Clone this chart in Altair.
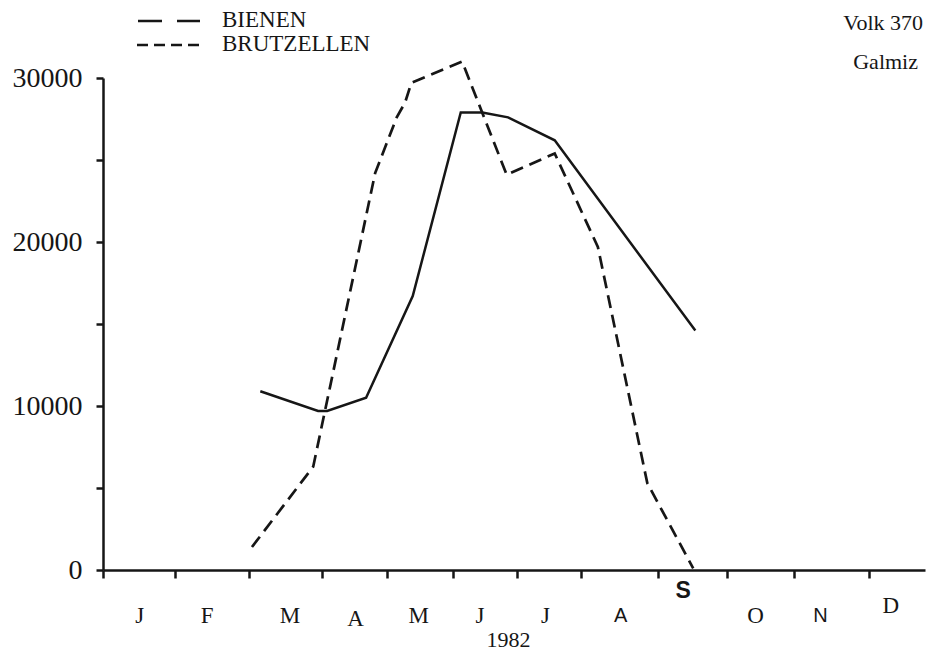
import json
import altair as alt
import pandas as pd

# ---------------- data ----------------
SERIES = ["BIENEN", "BRUTZELLEN"]
MONTHS = ["J", "F", "M", "A", "M", "J", "J", "A", "S", "O", "N", "D"]
# month positions in "months since 1 Jan" units
LABEL_POS = [0.52, 1.49, 2.68, 3.62, 4.53, 5.41, 6.35, 7.43, 8.33, 9.37, 10.30, 11.31]
BOUNDS = [0, 1.03, 2.10, 3.15, 4.08, 5.03, 5.95, 6.87, 7.97, 8.97, 9.93, 11.00]
Y_TICKS = [0, 5000, 10000, 15000, 20000, 25000, 30000]

BIENEN_X = [2.26, 3.09, 3.22, 3.78, 4.45, 5.14, 5.45, 5.82, 6.49, 8.51]
BIENEN_Y = [10900, 9700, 9700, 10500, 16700, 27900, 27900, 27600, 26200, 14600]
BRUT_X = [2.14, 3.02, 3.91, 4.22, 4.34, 4.43, 5.16, 5.80, 6.49, 7.11, 7.82, 8.48]
BRUT_Y = [1400, 6300, 24200, 27600, 28500, 29700, 31000, 24100, 25400, 19700, 5300, 100]

TITLE_1 = "Volk 370"
TITLE_2 = "Galmiz"
YEAR = "1982"

# ---------------- styling ----------------
INK = "#161616"
SERIF = "Liberation Serif"
SANS = "Liberation Sans"
XMAX = 11.81
W, H = 822, 492

bienen = pd.DataFrame({"m": BIENEN_X, "n": BIENEN_Y, "s": SERIES[0]})
brut = pd.DataFrame({"m": BRUT_X, "n": BRUT_Y, "s": SERIES[1]})
one = pd.DataFrame({"k": [0]})

xscale = alt.Scale(domain=[0, XMAX], nice=False, zero=False)
yscale = alt.Scale(domain=[0, 30000], nice=False)

tick_axis = alt.Axis(
    orient="bottom",
    values=BOUNDS, labels=False, ticks=True, tickSize=8, tickWidth=2.5,
    tickColor=INK, domain=True, domainWidth=2.5, domainColor=INK,
    grid=False, title=None,
)

fl = "floor(datum.value)"
label_axis = alt.Axis(
    orient="bottom",
    values=LABEL_POS, ticks=False, domain=False, grid=False,
    labelExpr=json.dumps(MONTHS) + "[" + fl + "]",
    labelFont={"condition": {"test": f"{fl} == 7 || {fl} == 8 || {fl} == 10", "value": SANS},
               "value": SERIF},
    labelFontWeight={"condition": {"test": f"{fl} == 8", "value": "bold"}, "value": "normal"},
    labelFontSize={"condition": {"test": f"{fl} == 7 || {fl} == 10", "value": 20}, "value": 23},
    labelPadding={"condition": [
        {"test": f"{fl} == 8", "value": 20},
        {"test": f"{fl} == 11", "value": 35},
        {"test": f"{fl} == 3", "value": 48},
    ], "value": 45},
    labelBaseline="middle", labelColor=INK, labelFlush=False, labelOverlap=False,
    labelBound=False,
    title=YEAR, titleFont=SERIF, titleFontSize=22, titleFontWeight="normal",
    titleColor=INK, titleX=405, titleY=69, titleBaseline="middle", titleAnchor="middle",
)

y_axis = alt.Axis(
    orient="left",
    values=Y_TICKS, format="d",
    labelExpr="datum.value % 10000 == 0 ? datum.label : ''",
    tickSize=7, tickWidth=2.5, tickColor=INK, domainWidth=2.5, domainColor=INK,
    labelFont=SERIF, labelFontSize=28, labelPadding=14, labelColor=INK,
    grid=False, title=None,
)

line_a = alt.Chart(bienen).mark_line(color=INK, strokeWidth=2.5).encode(
    x=alt.X("m:Q", scale=xscale, axis=tick_axis),
    y=alt.Y("n:Q", scale=yscale, axis=y_axis),
)
line_b = alt.Chart(brut).mark_line(color=INK, strokeWidth=2.7, strokeDash=[13, 7]).encode(
    x=alt.X("m:Q", scale=xscale, axis=label_axis),
    y=alt.Y("n:Q", scale=yscale, axis=None),
)


def text_layer(txt, x, y, align, size):
    return alt.Chart(one).mark_text(
        text=txt, align=align, baseline="middle", font=SERIF, fontSize=size, color=INK
    ).encode(x=alt.value(x), y=alt.value(y))


def key_rule(x1, x2, y, dash):
    return alt.Chart(one).mark_rule(color=INK, strokeWidth=2.3, strokeDash=dash).encode(
        x=alt.value(x1), x2=alt.value(x2), y=alt.value(y)
    )


legend_layers = [
    key_rule(35, 97, -57, [24, 15]),
    key_rule(34, 97, -33, [11, 6]),
    text_layer(SERIES[0], 119, -58, "left", 23),
    text_layer(SERIES[1], 119, -34, "left", 23),
    text_layer(TITLE_1, 820, -55, "right", 22),
    text_layer(TITLE_2, 815, -16, "right", 22),
]

chart = alt.layer(line_a, line_b, *legend_layers).resolve_axis(
    x="independent", y="independent"
).properties(
    width=W, height=H,
    padding={"left": 95, "top": 70, "right": 3, "bottom": 83},
    autosize=alt.AutoSizeParams(type="none"),
    background="white",
).configure_view(stroke=None)

chart.save("out.html", embed_options={"renderer": "svg", "actions": False})
